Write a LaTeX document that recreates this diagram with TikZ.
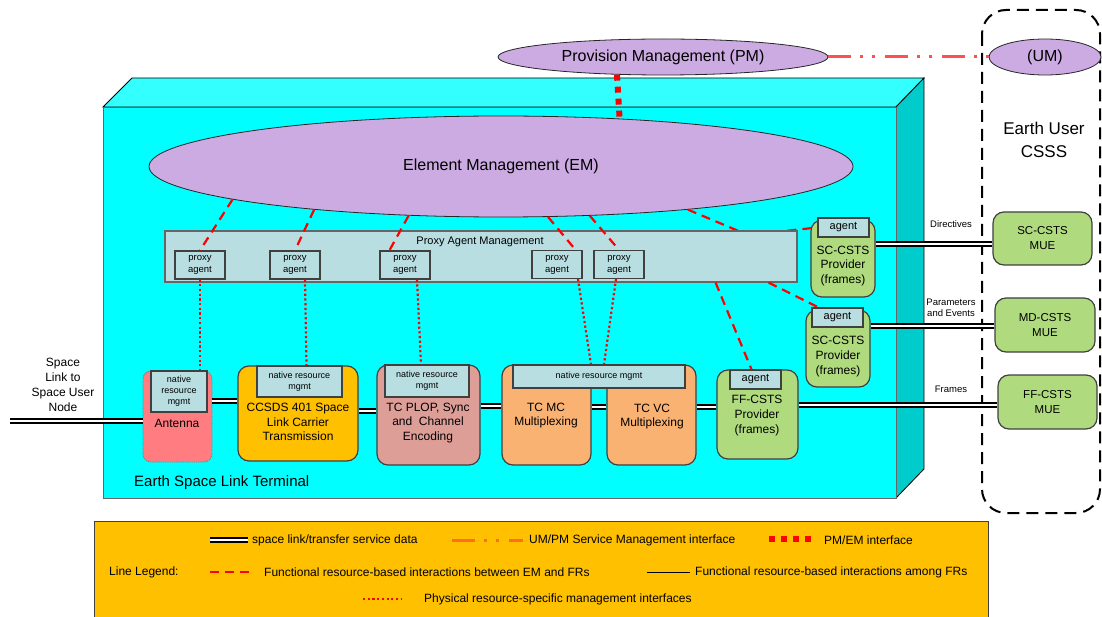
\documentclass[tikz,border=0pt]{standalone}
\usepackage{fontspec}
\setmainfont{Liberation Sans}
\usetikzlibrary{shapes.geometric}

\definecolor{cubefront}{RGB}{0,255,255}
\definecolor{cubetop}{RGB}{51,255,255}
\definecolor{cubeside}{RGB}{0,204,204}
\definecolor{lavender}{RGB}{204,170,226}
\definecolor{mgmtblue}{RGB}{185,222,226}
\definecolor{frgreen}{RGB}{175,218,125}
\definecolor{frorange}{RGB}{250,178,115}
\definecolor{frrose}{RGB}{221,158,152}
\definecolor{frgold}{RGB}{255,192,0}
\definecolor{frsalmon}{RGB}{255,124,128}
\definecolor{umpmred}{RGB}{255,80,80}
\definecolor{umpmorange}{RGB}{255,110,30}

\tikzset{
  mgmt/.style={ellipse, draw=black!85, line width=0.8pt, fill=lavender, inner sep=0pt, font=\fontsize{16}{19}\selectfont},
  frbox/.style={draw=black!75, line width=1.2pt, rounded corners=11pt, inner sep=0pt},
  nrm/.style={draw=black!75, fill=mgmtblue, line width=1.2pt, inner sep=0pt, align=center, font=\fontsize{9}{11}\selectfont},
  proxy/.style={nrm, minimum width=50pt, minimum height=28pt, font=\fontsize{9.5}{12}\selectfont},
  agentbox/.style={nrm, minimum width=51pt, minimum height=19pt, font=\fontsize{11}{13}\selectfont},
  frtext/.style={align=center, inner sep=0pt, font=\fontsize{12}{14.8}\selectfont},
  mue/.style={frbox, fill=frgreen, align=center, font=\fontsize{11.5}{15}\selectfont},
  lbl/.style={inner sep=0pt, align=center, font=\fontsize{9.5}{11}\selectfont},
  legtext/.style={anchor=west, inner sep=0pt, font=\fontsize{12}{14}\selectfont},
  sld/.style={double, double distance=1.6pt, line width=1.8pt},
  emfr/.style={red, line width=2.2pt, dash pattern=on 9pt off 6pt},
  phys/.style={red, line width=2.2pt, dash pattern=on 2.2pt off 2.5pt},
  pmem/.style={red, line width=6pt, dash pattern=on 6pt off 6pt},
  umpm/.style={umpmred, line width=3pt, dash pattern=on 23pt off 9pt on 3pt off 9pt on 3pt off 10pt},
}

\begin{document}
\begin{tikzpicture}[x=1pt,y=-1pt]
  \useasboundingbox (0,0) rectangle (1102,617);
  % terminal block
  \filldraw[fill=cubetop, line width=0.8pt] (103,107) -- (132,78) -- (924,78) -- (896,107) -- cycle;
  \filldraw[fill=cubeside, line width=0.8pt] (896,107) -- (924,78) -- (924,469) -- (896,498) -- cycle;
  \filldraw[fill=cubefront, draw=black!60, line width=0.8pt] (103,107) rectangle (896,498);
  \node[anchor=west, inner sep=0pt, font=\fontsize{15}{18}\selectfont] (eslt) at (134,483) {Earth Space Link Terminal};
  % user side
  \draw[line width=2pt, dash pattern=on 12pt off 7pt, rounded corners=24pt] (982,10) rectangle (1100,513);
  \node[align=center, inner sep=0pt, font=\fontsize{17}{23}\selectfont] (eucsss) at (1044,140) {Earth User\\CSSS};
  % legend box
  \filldraw[fill=frgold, draw=black!75, line width=1pt] (94,521) rectangle (988,630);

  \node[mgmt, minimum width=704pt, minimum height=101pt] (em) at (501,166.5) {Element Management (EM)};
  \node[mgmt, minimum width=330pt, minimum height=36pt] (pm) at (663,57) {Provision Management (PM)};
  \node[mgmt, minimum width=112pt, minimum height=36pt] (um) at (1045,57) {(UM)};
  \draw[umpm] (pm.east) -- (um.west);
  \draw[pmem] (pm.201.5) -- (em.22);

  \node[frbox, fill=frgreen, minimum width=64pt, minimum height=77pt] (sc1) at (843,258.5) {};
  \node[agentbox] (agent1) at (843.5,227.5) {agent};
  \node[frtext] (sc1text) at (843,266) {SC-CSTS\\Provider\\(frames)};
  \coordinate (bend1) at (748,235);
  \draw[emfr] (em.347.5) -- (bend1) -- (agent1.west);

  % proxy agents
  \node[nrm, draw=black!60, minimum width=632pt, minimum height=51pt] (pam) at (481,256.5) {};
  \node[inner sep=0pt, font=\fontsize{11}{13}\selectfont] (pamtext) at (480,242) {Proxy Agent Management};
  \node[proxy] (proxy1) at (200,265) {proxy\\agent};
  \node[proxy] (proxy2) at (295,265) {proxy\\agent};
  \node[proxy] (proxy3) at (405,265) {proxy\\agent};
  \node[proxy] (proxy4) at (557,264.5) {proxy\\agent};
  \node[proxy] (proxy5) at (619,264.5) {proxy\\agent};
  \draw[emfr] (em.187.3) -- (proxy1.north);
  \draw[emfr] (em.193.5) -- (proxy2.north);
  \draw[emfr] (em.208.5) -- ([xshift=10pt]proxy3.north west);
  \draw[emfr] (em.313) -- ([xshift=-7pt]proxy4.north east);
  \draw[emfr] (em.331) -- (proxy5.north);

  % functional resources
  \node[frbox, fill=frsalmon, draw=black!50, densely dotted, line width=0.9pt, rounded corners=8pt, minimum width=69pt, minimum height=91pt] (ant) at (177.5,416.5) {};
  \node[nrm, minimum width=56pt, minimum height=41pt] (antnrm) at (179,391.5) {native\\resource\\mgmt};
  \node[frtext] (anttext) at (177,423) {Antenna};

  \node[frbox, fill=frgold, minimum width=120pt, minimum height=95pt] (ccsds) at (298,413.5) {};
  \node[nrm, minimum width=85pt, minimum height=31pt] (ccsdsnrm) at (299.5,381.5) {native resource\\mgmt};
  \node[frtext] (ccsdstext) at (298,422) {CCSDS 401 Space\\Link Carrier\\Transmission};

  \node[frbox, fill=frrose, minimum width=103pt, minimum height=100pt] (plop) at (428.5,415) {};
  \node[nrm, minimum width=84pt, minimum height=32pt] (plopnrm) at (427,381) {native resource\\mgmt};
  \node[frtext] (ploptext) at (428,423) {TC PLOP, Sync\\and~~Channel\\Encoding};

  \node[frbox, fill=frorange, minimum width=89pt, minimum height=100pt] (tcmc) at (546.5,415) {};
  \node[frbox, fill=frorange, minimum width=89pt, minimum height=100pt] (tcvc) at (651.5,415) {};
  \node[nrm, minimum width=172pt, minimum height=23pt] (tcnrm) at (599,376.5) {native resource mgmt};
  \node[frtext] (tcmctext) at (546,415.5) {TC MC\\Multiplexing};
  \node[frtext] (tcvctext) at (652,416.5) {TC VC\\Multiplexing};

  \node[frbox, fill=frgreen, minimum width=81pt, minimum height=89pt] (ffprov) at (757.5,414.5) {};
  \node[agentbox] (ffagent) at (755.5,379.5) {agent};
  \node[frtext] (fftext) at (757,415.5) {FF-CSTS\\Provider\\(frames)};

  \node[frbox, fill=frgreen, minimum width=64pt, minimum height=77pt] (sc2) at (838,348.5) {};
  \node[agentbox] (agent2) at (837.5,317.5) {agent};
  \node[frtext] (sc2text) at (838,356.5) {SC-CSTS\\Provider\\(frames)};

  \draw[emfr] ([xshift=-29pt]pam.south east) -- ([xshift=7pt]agent2.north west);
  \draw[emfr] ([xshift=-82pt]pam.south east) -- ([xshift=-4pt]ffagent.north);

  % physical management
  \draw[phys] (proxy1.south) -- (proxy1.south |- antnrm.north);
  \draw[phys] ([xshift=10pt]proxy2.south) -- ([xshift=7pt]ccsdsnrm.north);
  \draw[phys] ([xshift=12pt]proxy3.south) -- ([xshift=-6pt]plopnrm.north);
  \draw[phys] ([xshift=21pt]proxy4.south) -- ([xshift=-8pt]tcnrm.north);
  \draw[phys] ([xshift=-3pt]proxy5.south) -- ([xshift=5pt]tcnrm.north);

  % user side units
  \node[mue, minimum width=99pt, minimum height=53pt] (scmue) at (1042.5,238.5) {SC-CSTS\\MUE};
  \node[mue, minimum width=100pt, minimum height=54pt] (mdmue) at (1045,325) {MD-CSTS\\MUE};
  \node[mue, minimum width=99pt, minimum height=54pt] (ffmue) at (1047.5,402) {FF-CSTS\\MUE};
  \node[lbl] (dirlbl) at (951,224) {Directives};
  \node[lbl] (parlbl) at (951,307.5) {Parameters\\and Events};
  \node[lbl] (frmlbl) at (951,389) {Frames};

  % data flow
  \node[align=center, inner sep=0pt, font=\fontsize{12}{15}\selectfont] (slnode) at (63,384.5) {Space\\Link to\\Space User\\Node};
  \coordinate (slend) at (10,421);
  \draw[sld] (slend) -- (slend -| ant.west);
  \draw[sld] (ant.east |- 0,401) -- (ccsds.west |- 0,401);
  \draw[sld] (ccsds.east |- 0,411) -- (plop.west |- 0,411);
  \draw[sld] (plop.east |- 0,406) -- (tcmc.west |- 0,406);
  \draw[sld] (tcmc.east |- 0,407) -- (tcvc.west |- 0,407);
  \draw[sld] (tcvc.east |- 0,407) -- (ffprov.west |- 0,407);
  \draw[sld] (ffprov.east |- 0,405) -- (ffmue.west |- 0,405);
  \draw[sld] (sc1.east |- 0,244) -- (scmue.west |- 0,244);
  \draw[sld] (sc2.east |- 0,326) -- (mdmue.west |- 0,326);

  % legend
  \draw[sld] (210,540) -- (248,540);
  \node[legtext] (leg1) at (252,540) {space link/transfer service data};
  \draw[umpm, umpmorange] (452,540) -- (523,540);
  \node[legtext] (leg2) at (529,540) {UM/PM Service Management interface};
  \draw[pmem] (769,539) -- (812,539);
  \node[legtext] (leg3) at (824,540) {PM/EM interface};
  \node[legtext] (leghead) at (109,572) {Line Legend:};
  \draw[emfr] (210,572) -- (252,572);
  \node[legtext] (leg4) at (264,572) {Functional resource-based interactions between EM and FRs};
  \draw[line width=1pt] (647,572) -- (690,572);
  \node[legtext] (leg5) at (695,572) {Functional resource-based interactions among FRs};
  \draw[phys] (363,599) -- (402,599);
  \node[legtext] (leg6) at (424,599) {Physical resource-specific management interfaces};
\end{tikzpicture}
\end{document}
